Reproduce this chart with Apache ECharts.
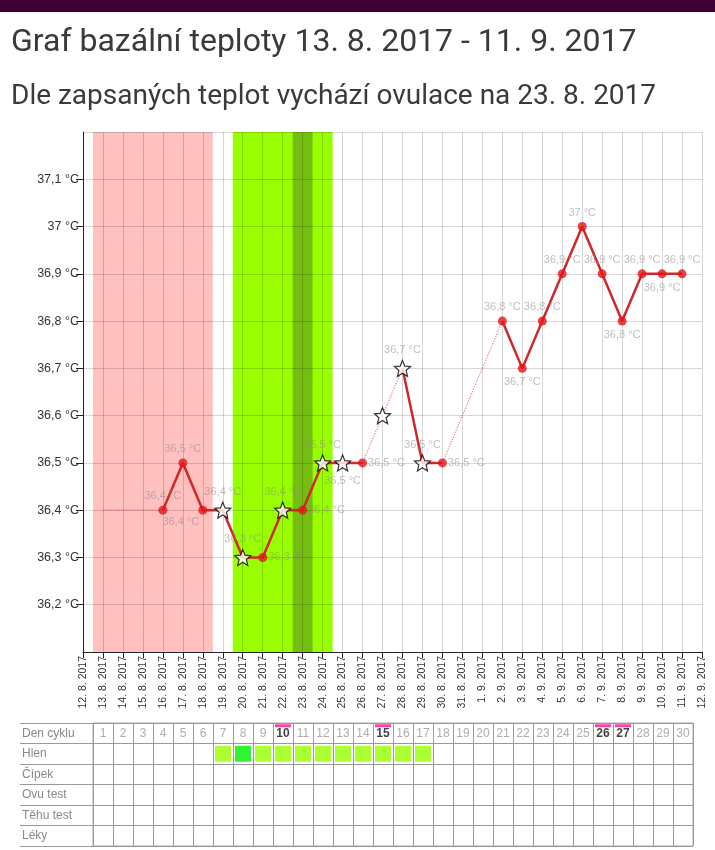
<!DOCTYPE html>
<html>
<head>
<meta charset="utf-8">
<script src="https://cdn.jsdelivr.net/npm/echarts@6/dist/echarts.min.js"></script>
<style>
  html, body { margin: 0; padding: 0; background: #fff; }
  #chart { width: 715px; height: 850px; }
</style>
</head>
<body>
<div id="chart"></div>
<script>
// index 0 = 12. 8. 2017 ... index 31 = 12. 9. 2017
const dates = [
  '12. 8. 2017', '13. 8. 2017', '14. 8. 2017', '15. 8. 2017', '16. 8. 2017', '17. 8. 2017',
  '18. 8. 2017', '19. 8. 2017', '20. 8. 2017', '21. 8. 2017', '22. 8. 2017', '23. 8. 2017',
  '24. 8. 2017', '25. 8. 2017', '26. 8. 2017', '27. 8. 2017', '28. 8. 2017', '29. 8. 2017',
  '30. 8. 2017', '31. 8. 2017', '1. 9. 2017', '2. 9. 2017', '3. 9. 2017', '4. 9. 2017',
  '5. 9. 2017', '6. 9. 2017', '7. 9. 2017', '8. 9. 2017', '9. 9. 2017', '10. 9. 2017',
  '11. 9. 2017', '12. 9. 2017'
]

// naměřené teploty podle indexu dne (null = nezapsáno)
const temps = [
  null, null, null, null, 36.4, 36.5, 36.4, 36.4, 36.3, 36.3, 36.4, 36.4,
  36.5, 36.5, 36.5, 36.6, 36.7, 36.5, 36.5, null, null, 36.8, 36.7, 36.8,
  36.9, 37.0, 36.9, 36.8, 36.9, 36.9, 36.9, null
]
const starDays = [7, 8, 10, 12, 13, 15, 16, 17]   // hvězdička
const faintOnly = [15]                            // jen v tenké čáře
const leadIn = [1, 36.4]                          // začátek cyklu

// pásy (index dne, od-do)
const periodDays = [1, 6]
const fertileDays = [8, 12]
const ovulationDay = 11

// popisky bodů
const labelSide = {
  4: 'top', 5: 'top', 6: 'bottom', 7: 'top', 8: 'top', 9: 'right', 10: 'top', 11: 'right',
  12: 'top', 13: 'bottom', 14: 'right', 16: 'top', 17: 'top', 18: 'right', 21: 'top',
  22: 'bottom', 23: 'top', 24: 'top', 25: 'top', 26: 'top', 27: 'bottom', 28: 'top',
  29: 'bottom', 30: 'top'
}

// tabulka
const rows = ['Den cyklu', 'Hlen', 'Čípek', 'Ovu test', 'Těhu test', 'Léky']
const cycleDays = Array.from({ length: 30 }, (_, i) => String(i + 1))
const markedDays = [10, 15, 26, 27]
const hlen = [0, 0, 0, 0, 0, 0, 1, 2, 1, 1, 1, 1, 1, 1, 1, 1, 1, 0, 0, 0, 0, 0, 0, 0, 0, 0, 0, 0, 0, 0]

const starPath = 'path://M12,1 L15.1,8.6 L23,9.2 L17,14.4 L18.9,22.3 L12,18 L5.1,22.3 L7,14.4 L1,9.2 L8.9,8.6 Z'
const fmtTemp = v => (Math.round(v * 10) / 10).toString().replace('.', ',') + ' °C'
const gridColor = 'rgba(0, 0, 0, 0.16)'
const labelFont = 'Liberation Sans, Arial, sans-serif'

const chart = echarts.init(document.getElementById('chart'))

const faintData = [leadIn].concat(
  temps.map((v, i) => [i, v]).filter(p => p[1] != null)
)
const solidData = temps.map((v, i) => [i, (v == null || faintOnly.includes(i)) ? '-' : v])

const pointData = temps.map((v, i) => {
  if (v == null) return null
  const star = starDays.includes(i)
  const side = labelSide[i]
  return {
    value: [i, v],
    symbol: star ? starPath : 'circle',
    symbolSize: star ? 16 : 9,
    itemStyle: star
      ? { color: '#fff', borderColor: '#000', borderWidth: 1.2 }
      : { color: '#e3141b' },
    label: {
      show: !!side,
      position: side || 'top',
      distance: side === 'right' ? 1 : 4,
      offset: i === 6 ? [-22, -2] : [0, 0]
    }
  }
}).filter(Boolean)

const headerData = cycleDays.map((d, i) => {
  const marked = markedDays.includes(i + 1)
  return {
    value: [i, 0],
    label: marked ? { color: '#111', fontWeight: 'bold' } : {}
  }
})
const markData = markedDays.map(d => [d - 1, 0])
const hlenData = hlen.map((h, i) => h ? {
  value: [i, 1],
  itemStyle: { color: h === 2 ? '#00ee00' : '#99ff00' }
} : null).filter(Boolean)

const option = {
  animation: false,
  backgroundColor: '#fff',
  graphic: [{
    type: 'rect',
    shape: { x: 0, y: 0, width: 715, height: 12 },
    style: { fill: '#3d0033' }
  }],
  title: [
    {
      text: 'Graf bazální teploty 13. 8. 2017 - 11. 9. 2017',
      left: 6, top: 22,
      textStyle: { fontFamily: 'Roboto', fontSize: 32, fontWeight: 'normal', color: '#3a3a3a' }
    },
    {
      text: 'Dle zapsaných teplot vychází ovulace na 23. 8. 2017',
      left: 6, top: 78,
      textStyle: { fontFamily: 'Roboto', fontSize: 28, fontWeight: 'normal', color: '#3a3a3a' }
    }
  ],
  grid: [
    { left: 83, right: 13, top: 132, bottom: 198 },
    { left: 93, top: 723, width: 600, height: 123, show: true, borderColor: '#aaa', borderWidth: 1 },
    { left: 20, top: 723, width: 73, height: 123 }
  ],
  xAxis: [
    {
      gridIndex: 0, type: 'value', min: 0, max: 31, interval: 1, z: 3,
      axisLine: { lineStyle: { color: '#222' } },
      axisTick: { length: 6, lineStyle: { color: '#222' } },
      axisLabel: {
        rotate: 90, margin: 4, fontSize: 10.5, color: '#333', fontFamily: labelFont,
        formatter: v => dates[v]
      },
      splitLine: { show: true, lineStyle: { color: gridColor } }
    },
    {
      gridIndex: 1, type: 'category', data: cycleDays,
      axisLine: { show: false }, axisTick: { show: false }, axisLabel: { show: false },
      splitLine: { show: true, interval: 0, lineStyle: { color: '#999' } }
    },
    { gridIndex: 2, type: 'category', data: [''], show: false }
  ],
  yAxis: [
    {
      gridIndex: 0, type: 'value', min: 36.1, max: 37.2, interval: 0.1, z: 3,
      axisLine: { show: true, lineStyle: { color: '#222' } },
      axisTick: { show: true, length: 7, lineStyle: { color: '#222' } },
      axisLabel: {
        showMinLabel: false, showMaxLabel: false, margin: 4,
        fontSize: 12.5, color: '#333', fontFamily: labelFont,
        formatter: fmtTemp
      },
      splitLine: { show: true, lineStyle: { color: gridColor } }
    },
    {
      gridIndex: 1, type: 'category', data: rows, inverse: true,
      axisLine: { show: false }, axisTick: { show: false },
      axisLabel: { margin: 71, align: 'left', color: '#888', fontSize: 12, fontFamily: labelFont },
      splitLine: { show: true, interval: 0, lineStyle: { color: '#999' } }
    },
    {
      gridIndex: 2, type: 'category', data: rows, inverse: true,
      axisLine: { show: false }, axisTick: { show: false }, axisLabel: { show: false },
      splitLine: { show: true, interval: 0, lineStyle: { color: '#999' } }
    }
  ],
  series: [
    {
      // pásy menstruace / plodné dny / ovulace
      type: 'line', data: [], z: 1, silent: true,
      markArea: {
        silent: true,
        data: [
          [{ xAxis: periodDays[0] - 0.5, itemStyle: { color: '#ffc0c0' } }, { xAxis: periodDays[1] + 0.5 }],
          [{ xAxis: fertileDays[0] - 0.5, itemStyle: { color: '#99ff00' } }, { xAxis: fertileDays[1] + 0.5 }],
          [{ xAxis: ovulationDay - 0.5, itemStyle: { color: '#74be12' } }, { xAxis: ovulationDay + 0.5 }]
        ]
      }
    },
    {
      type: 'line', data: faintData, z: 5, showSymbol: false, silent: true,
      lineStyle: { color: 'rgba(220, 50, 50, 0.55)', width: 1.3, type: 'dotted' }
    },
    {
      type: 'line', data: solidData, z: 6, showSymbol: false, silent: true,
      lineStyle: { color: '#d02828', width: 2.5 }
    },
    {
      type: 'scatter', data: pointData, z: 7,
      label: {
        formatter: p => fmtTemp(p.value[1]),
        color: 'rgba(140, 140, 140, 0.7)', fontSize: 11, fontFamily: labelFont
      }
    },
    {
      type: 'scatter', xAxisIndex: 1, yAxisIndex: 1, data: headerData,
      symbol: 'rect', symbolSize: 10, itemStyle: { color: 'transparent' },
      label: {
        show: true, position: 'inside', formatter: p => cycleDays[p.value[0]],
        color: '#999', fontSize: 12, fontFamily: labelFont
      }
    },
    {
      type: 'scatter', xAxisIndex: 1, yAxisIndex: 1, data: markData,
      symbol: 'rect', symbolSize: [16, 3], symbolOffset: [0, -7.5],
      itemStyle: { color: '#f5168c' }
    },
    {
      type: 'scatter', xAxisIndex: 1, yAxisIndex: 1, data: hlenData,
      symbol: 'rect', symbolSize: 16
    }
  ]
}

chart.setOption(option)
</script>
</body>
</html>
